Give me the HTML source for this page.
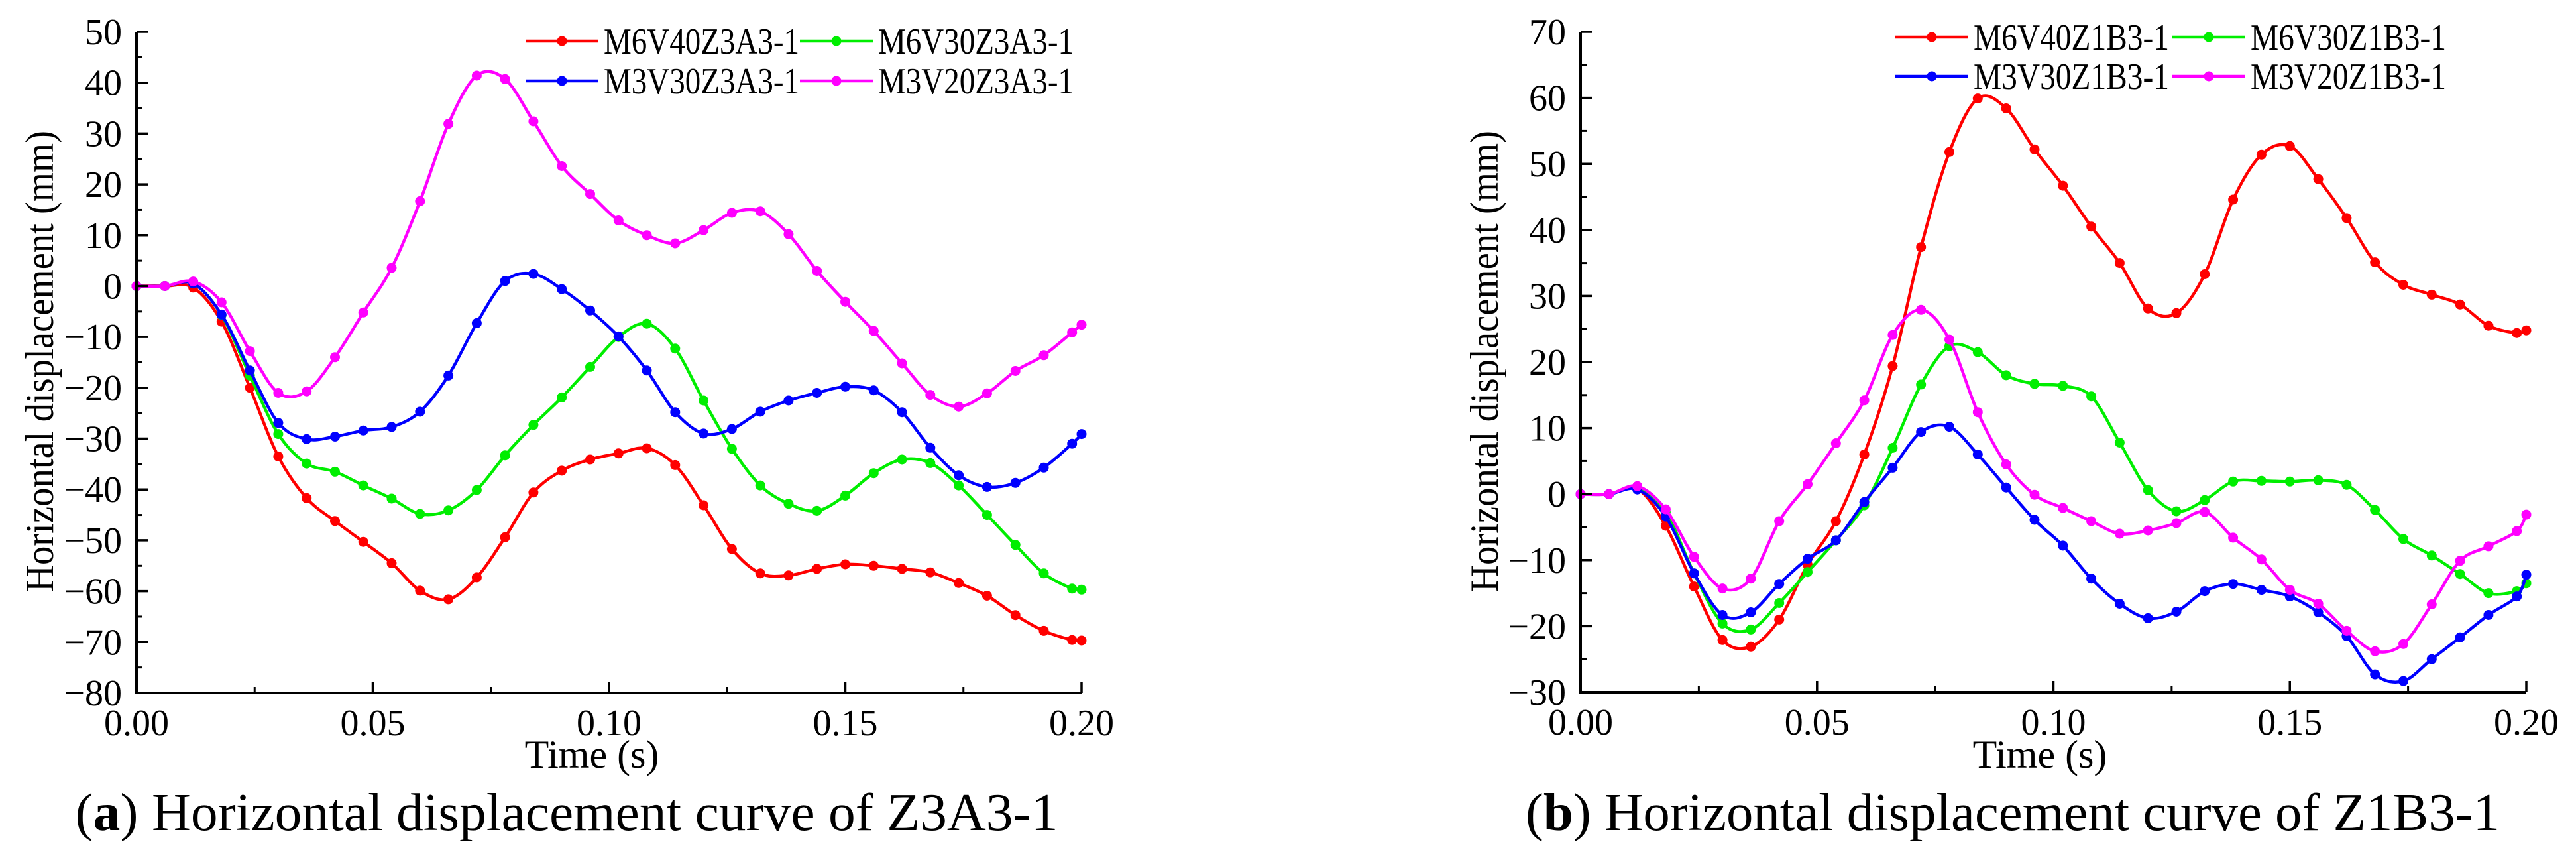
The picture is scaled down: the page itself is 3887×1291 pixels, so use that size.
<!DOCTYPE html>
<html><head><meta charset="utf-8"><style>
html,body{margin:0;padding:0;background:#fff;}
svg{display:block;}
text{font-family:"Liberation Serif","Times New Roman",serif;fill:#000;}
</style></head><body>
<svg id="root" width="3887" height="1291" viewBox="0 0 3887 1291" xmlns="http://www.w3.org/2000/svg" font-family="Liberation Serif, serif">
<rect width="3887" height="1291" fill="#fff"/>
<g id="chartA"></g>
<g id="chartB"></g>
<text x="855" y="1252" font-size="80" text-anchor="middle" textLength="1483" lengthAdjust="spacingAndGlyphs">(<tspan font-weight="bold">a</tspan>) Horizontal displacement curve of Z3A3-1</text>
<text x="3037" y="1252" font-size="80" text-anchor="middle" textLength="1470" lengthAdjust="spacingAndGlyphs">(<tspan font-weight="bold">b</tspan>) Horizontal displacement curve of Z1B3-1</text>
</svg>
<script>
const times = [0,0.006,0.012,0.018,0.024,0.030,0.036,0.042,0.048,0.054,0.060,0.066,0.072,0.078,0.084,0.090,0.096,0.102,0.108,0.114,0.120,0.126,0.132,0.138,0.144,0.150,0.156,0.162,0.168,0.174,0.180,0.186,0.192,0.198,0.200];
const xTicks = [0,0.05,0.10,0.15,0.20];
const xTickLabels = ["0.00","0.05","0.10","0.15","0.20"];
const aYTicks = [50,40,30,20,10,0,-10,-20,-30,-40,-50,-60,-70,-80];
const bYTicks = [70,60,50,40,30,20,10,0,-10,-20,-30];
const aNames = ["M6V40Z3A3-1","M6V30Z3A3-1","M3V30Z3A3-1","M3V20Z3A3-1"];
const bNames = ["M6V40Z1B3-1","M6V30Z1B3-1","M3V30Z1B3-1","M3V20Z1B3-1"];
const colors = ["#ff0000","#00ee00","#0000ff","#ff00ff"];
const aRed = [0,0,-0.3,-7,-20,-33.5,-41.7,-46.2,-50.3,-54.5,-59.9,-61.6,-57.3,-49.4,-40.6,-36.3,-34.1,-32.9,-31.9,-35.2,-43.1,-51.7,-56.5,-56.9,-55.6,-54.7,-55,-55.6,-56.3,-58.4,-60.9,-64.7,-67.8,-69.6,-69.7];
const aGreen = [0,0,0.5,-5.7,-17.6,-29.1,-34.9,-36.5,-39.2,-41.8,-44.8,-44.1,-40.1,-33.3,-27.3,-21.9,-15.9,-10,-7.4,-12.3,-22.5,-32,-39.2,-42.8,-44.2,-41.2,-36.8,-34.1,-34.8,-39.2,-45,-50.9,-56.5,-59.5,-59.7];
const aBlue = [0,0,0.5,-5.6,-16.6,-26.9,-30.1,-29.6,-28.4,-27.7,-24.7,-17.6,-7.3,1,2.4,-0.6,-4.8,-9.9,-16.6,-24.8,-29,-28.1,-24.7,-22.5,-21,-19.8,-20.5,-24.8,-31.8,-37.2,-39.5,-38.7,-35.7,-31,-29.1];
const aMagenta = [0,0,0.9,-3.2,-12.8,-21,-20.7,-14,-5.2,3.6,16.7,31.9,41.4,40.7,32.4,23.6,18.1,12.9,10,8.4,11,14.4,14.7,10.2,3,-3.1,-8.8,-15.2,-21.4,-23.7,-21.1,-16.7,-13.6,-9.1,-7.6];
const bRed = [0,0,0.8,-4.8,-14,-22.1,-23.1,-19,-10.7,-4.1,6,19.4,37.4,51.8,59.9,58.4,52.2,46.7,40.5,35,28.1,27.4,33.3,44.6,51.4,52.7,47.7,41.8,35.1,31.7,30.2,28.7,25.5,24.4,24.8];
const bGreen = [0,0,1,-2.7,-12,-19.6,-20.5,-16.5,-11.8,-7,-1.7,7,16.6,22.4,21.5,18,16.7,16.4,14.8,7.8,0.6,-2.6,-0.9,1.9,2,1.9,2.1,1.4,-2.4,-6.8,-9.3,-12.1,-15,-14.7,-13.5];
const bBlue = [0,0,0.7,-3.4,-12,-18.3,-17.9,-13.6,-9.8,-7,-1.2,4,9.4,10.2,6,1,-3.9,-7.8,-12.8,-16.6,-18.8,-17.8,-14.7,-13.6,-14.5,-15.5,-17.9,-21.5,-27.3,-28.3,-25,-21.7,-18.3,-15.5,-12.2];
const bMagenta = [0,0,1.2,-2.3,-9.5,-14.3,-12.8,-4.1,1.5,7.7,14.2,24.1,27.9,23.4,12.4,4.5,-0.1,-2.1,-4.1,-6,-5.5,-4.4,-2.7,-6.6,-9.9,-14.5,-16.6,-20.7,-23.8,-22.7,-16.7,-10.1,-7.9,-5.6,-3.1];

const NS = "http://www.w3.org/2000/svg";
function mk(tag, attrs, parent){
  const e = document.createElementNS(NS, tag);
  for (const k in attrs) e.setAttribute(k, attrs[k]);
  parent.appendChild(e);
  return e;
}
function smoothPath(pts){
  let d = "M" + pts[0][0].toFixed(1) + "," + pts[0][1].toFixed(1);
  for (let i = 0; i < pts.length - 1; i++){
    const p0 = pts[Math.max(0,i-1)], p1 = pts[i], p2 = pts[i+1], p3 = pts[Math.min(pts.length-1,i+2)];
    const c1x = p1[0] + (p2[0]-p0[0])/6, c1y = p1[1] + (p2[1]-p0[1])/6;
    const c2x = p2[0] - (p3[0]-p1[0])/6, c2y = p2[1] - (p3[1]-p1[1])/6;
    d += " C" + c1x.toFixed(1) + "," + c1y.toFixed(1) + " " + c2x.toFixed(1) + "," + c2y.toFixed(1) + " " + p2[0].toFixed(1) + "," + p2[1].toFixed(1);
  }
  return d;
}
function fmt(v){ return v < 0 ? "\u2212" + Math.abs(v) : String(v); }

function drawChart(g, cfg){
  const sx = t => cfg.x0 + (t - 0) / 0.2 * (cfg.x1 - cfg.x0);
  const sy = v => cfg.yBot + (v - cfg.yMin) / (cfg.yMax - cfg.yMin) * (cfg.yTop - cfg.yBot);
  cfg.series.forEach((vals, si) => {
    const sg = mk("g", {}, g);
    
    
    const pts = vals.map((v, i) => [sx(times[i]), sy(v)]);
    const p = mk("path", {d: smoothPath(pts), fill: "none", stroke: colors[si], "stroke-width": 4.5}, sg);
    
    
    pts.forEach((pt, i) => {
      const c = mk("circle", {cx: pt[0].toFixed(1), cy: pt[1].toFixed(1), r: 7.5, fill: colors[si]}, sg);
      
      
    });
  });
  const ax = mk("path", {d: "M" + cfg.x0 + "," + cfg.yTop + " V" + cfg.yBot + " H" + cfg.x1, fill: "none", stroke: "#000", "stroke-width": 4}, g);
  
  
  xTicks.forEach((t, i) => {
    const x = sx(t);
    const tk = mk("line", {x1: x, x2: x, y1: cfg.yBot, y2: cfg.yBot - 17, stroke: "#000", "stroke-width": 3.5}, g);
    
    
    if (i < xTicks.length - 1){
      const xm = sx((t + xTicks[i+1]) / 2);
      const mt = mk("line", {x1: xm, x2: xm, y1: cfg.yBot, y2: cfg.yBot - 9, stroke: "#000", "stroke-width": 3}, g);
      
      
    }
    const lb = mk("text", {x: x, y: cfg.yBot + 64, "font-size": 56, "text-anchor": "middle", "font-family": "Liberation Serif, serif"}, g);
    lb.textContent = xTickLabels[i];
    
    
  });
  cfg.yTicks.forEach((v, i) => {
    const y = sy(v);
    const tk = mk("line", {x1: cfg.x0, x2: cfg.x0 + 17, y1: y, y2: y, stroke: "#000", "stroke-width": 3.5}, g);
    
    
    if (i < cfg.yTicks.length - 1){
      const ym = sy((v + cfg.yTicks[i+1]) / 2);
      const mt = mk("line", {x1: cfg.x0, x2: cfg.x0 + 9, y1: ym, y2: ym, stroke: "#000", "stroke-width": 3}, g);
      
      
    }
    const lb = mk("text", {x: cfg.x0 - 22, y: y + 19, "font-size": 56, "text-anchor": "end", "font-family": "Liberation Serif, serif"}, g);
    lb.textContent = fmt(v);
    
    
  });
  const xt = mk("text", {x: cfg.xTitleX, y: 1158, "font-size": 60, "text-anchor": "middle", "font-family": "Liberation Serif, serif"}, g);
  xt.textContent = "Time (s)";
  
  
  const yt = mk("text", {x: 0, y: 0, "font-size": 60, "text-anchor": "middle", "font-family": "Liberation Serif, serif", textLength: 696, lengthAdjust: "spacingAndGlyphs", transform: "translate(" + cfg.yTitleX + ",545) rotate(-90)"}, g);
  yt.textContent = "Horizontal displacement (mm)";
  
  
  cfg.names.forEach((n, i) => {
    const col = i % 2, row = Math.floor(i / 2);
    const lx = cfg.legX[col], ly = cfg.legY[row];
    const lg = mk("g", {}, g);
    
    
    mk("line", {x1: lx, x2: lx + cfg.legLine, y1: ly, y2: ly, stroke: colors[i], "stroke-width": 4.5}, lg);
    mk("circle", {cx: lx + cfg.legLine / 2, cy: ly, r: 7.5, fill: colors[i]}, lg);
    const t = mk("text", {x: lx + cfg.legLine + 8, y: ly + 19, "font-size": 56, "font-family": "Liberation Serif, serif", textLength: cfg.legText, lengthAdjust: "spacingAndGlyphs"}, lg);
    t.textContent = n;
  });
}

drawChart(document.getElementById("chartA"), {
  x0: 206, x1: 1632, yTop: 48, yBot: 1045, yMin: -80, yMax: 50,
  yTicks: aYTicks, series: [aRed, aGreen, aBlue, aMagenta], names: aNames,
  xTitleX: 893, yTitleX: 80, legX: [793, 1207], legY: [62, 122], legLine: 110, legText: 295
});
drawChart(document.getElementById("chartB"), {
  x0: 2385, x1: 3812, yTop: 48, yBot: 1044, yMin: -30, yMax: 70,
  yTicks: bYTicks, series: [bRed, bGreen, bBlue, bMagenta], names: bNames,
  xTitleX: 3078, yTitleX: 2260, legX: [2860, 3278], legY: [56, 115], legLine: 110, legText: 295
});
</script>
</body></html>
